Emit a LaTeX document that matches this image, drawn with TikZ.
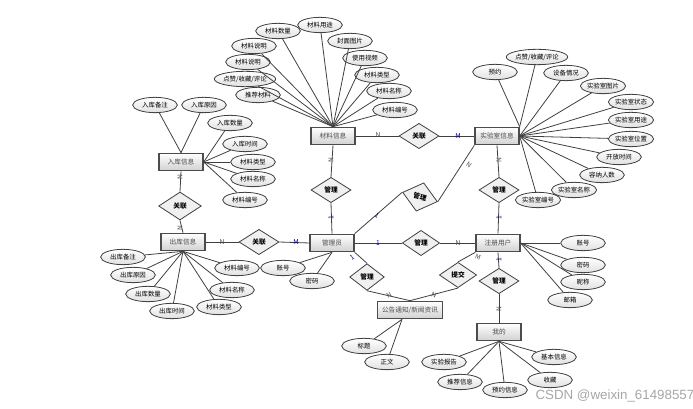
\documentclass[tikz,border=0pt]{standalone}
\usepackage{fontspec}
\setmainfont{Noto Sans CJK SC}
\newfontfamily\wmfont{Liberation Sans}
\usetikzlibrary{shapes.geometric}

\tikzset{every picture/.style={line width=0.75pt}}
\tikzset{
  entity/.style={draw=black!70, line width=1pt, top color=white, bottom color=black!18, minimum width=33pt, minimum height=13pt, inner sep=0pt, font=\fontsize{5}{6}\selectfont, text=black!70},
  attr/.style={ellipse, draw=black!75, line width=0.6pt, top color=white, bottom color=black!12, minimum width=33.5pt, minimum height=11.5pt, inner sep=0pt, font=\fontsize{4.8}{6}\selectfont},
  rel/.style={diamond, draw=black!75, line width=0.6pt, fill=black!6, aspect=1.6, minimum width=30pt, minimum height=19pt, inner sep=0pt, font=\bfseries\fontsize{5}{6}\selectfont},
  card/.style={font=\fontsize{5}{6}\selectfont, inner sep=0.5pt, text=blue!60!black},
  link/.style={draw=black!75, line width=0.6pt},
}

\begin{document}
\begin{tikzpicture}[x=0.75pt,y=0.75pt,yscale=-1,xscale=1]

\useasboundingbox (0,0) rectangle (693,409);

% entities
\node[entity] (mat) at (333,136) {材料信息};
\node[entity] (lab) at (497,136) {实验室信息};
\node[entity] (ru) at (181,162) {入库信息};
\node[entity] (chu) at (183,242) {出库信息};
\node[entity] (admin) at (332,243) {管理员};
\node[entity] (user) at (498,243) {注册用户};
\node[entity, minimum width=49pt] (notice) at (410,310) {公告通知/新闻资讯};
\node[entity] (mine) at (499,332) {我的};

% relations
\node[rel] (r1) at (419,136) {关联};
\node[rel, minimum width=32pt, minimum height=21pt] (r2) at (180,206) {关联};
\node[rel] (r3) at (259,242) {关联};
\node[rel] (r4) at (331,190) {管理};
\node[rel, rotate=-15, minimum width=27pt, minimum height=22pt] (r5) at (420,197) {管理};
\node[rel, minimum width=28pt] (r6) at (421,243) {管理};
\node[rel, minimum width=26pt, minimum height=20pt] (r7) at (367,277) {管理};
\node[rel, minimum width=28pt, minimum height=19pt] (r8) at (458,275) {提交};
\node[rel] (r9) at (499,281) {管理};
\node[rel] (r10) at (499,190) {管理};

% attributes of 材料信息
\node[attr] (m1) at (278,31) {材料数量};
\node[attr] (m2) at (320,25) {材料用途};
\node[attr] (m3) at (350,41) {封面图片};
\node[attr] (m4) at (365,58) {使用视频};
\node[attr] (m5) at (377,75) {材料类型};
\node[attr] (m6) at (389,91) {材料名称};
\node[attr] (m7) at (395,110) {材料编号};
\node[attr] (m8) at (254,46) {材料说明};
\node[attr] (m9) at (248,62) {材料说明};
\node[attr] (m10) at (245,79) {点赞/收藏/评论};
\node[attr] (m11) at (258,95) {推荐材料};

% attributes of 实验室信息
\node[attr] (l1) at (495,72) {预约};
\node[attr] (l2) at (537,57) {点赞/收藏/评论};
\node[attr] (l3) at (566,73) {设备情况};
\node[attr] (l4) at (603,86) {实验室图片};
\node[attr] (l5) at (631,102) {实验室状态};
\node[attr] (l6) at (631,120) {实验室用途};
\node[attr] (l7) at (631,139) {实验室位置};
\node[attr] (l8) at (619,157) {开放时间};
\node[attr] (l9) at (602,175) {容纳人数};
\node[attr] (l10) at (574,190) {实验室名称};
\node[attr] (l11) at (538,200) {实验室编号};

% attributes of 入库信息
\node[attr] (i1) at (155,105) {入库备注};
\node[attr] (i2) at (204,105) {入库原因};
\node[attr] (i3) at (230,123) {入库数量};
\node[attr] (i4) at (245,144) {入库时间};
\node[attr] (i5) at (253,162) {材料类型};
\node[attr] (i6) at (253,179) {材料名称};
\node[attr] (i7) at (245,200) {材料编号};

% attributes of 出库信息
\node[attr] (o1) at (123,257) {出库备注};
\node[attr] (o2) at (133,275) {出库原因};
\node[attr] (o3) at (148,294) {出库数量};
\node[attr] (o4) at (172,311) {出库时间};
\node[attr] (o5) at (219,307) {材料类型};
\node[attr] (o6) at (232,290) {材料名称};
\node[attr] (o7) at (237,268) {材料编号};

% attributes of 管理员, 注册用户, 公告, 我的
\node[attr] (a1) at (283,268) {账号};
\node[attr] (a2) at (312,281) {密码};
\node[attr] (u1) at (583,243) {账号};
\node[attr] (u2) at (583,265) {密码};
\node[attr] (u3) at (583,282) {昵称};
\node[attr] (u4) at (570,300) {邮箱};
\node[attr] (n1) at (364,346) {标题};
\node[attr] (n2) at (387,362) {正文};
\node[attr] (y1) at (554,357) {基本信息};
\node[attr] (y2) at (550,380) {收藏};
\node[attr] (y3) at (505,390) {预约信息};
\node[attr] (y4) at (460,382) {推荐信息};
\node[attr] (y5) at (444,362) {实验报告};

% attribute lines
\draw[link] (m1) -- (mat.north);
\draw[link] (m2) -- (mat.north);
\draw[link] (m3) -- (mat.north);
\draw[link] (m4) -- (mat.north);
\draw[link] (m5) -- (mat.north);
\draw[link] (m6) -- (mat.north);
\draw[link] (m7) -- (mat.north);
\draw[link] (m8) -- (mat.north);
\draw[link] (m9) -- (mat.north);
\draw[link] (m10) -- (mat.north);
\draw[link] (m11) -- (mat.north);
\draw[link] (l1) -- (lab.north east);
\draw[link] (l2) -- (lab.north east);
\draw[link] (l3) -- (lab.east);
\draw[link] (l4) -- (lab.east);
\draw[link] (l5) -- (lab.east);
\draw[link] (l6) -- (lab.east);
\draw[link] (l7) -- (lab.east);
\draw[link] (l8) -- (lab.east);
\draw[link] (l9) -- (lab.east);
\draw[link] (l10) -- (lab.east);
\draw[link] (l11) -- (lab.east);
\draw[link] (i1) -- (ru.north);
\draw[link] (i2) -- (ru.north);
\draw[link] (i3) -- (ru.east);
\draw[link] (i4) -- (ru.east);
\draw[link] (i5) -- (ru.east);
\draw[link] (i6) -- (ru.east);
\draw[link] (i7) -- (ru.east);
\draw[link] (o1) -- (chu.south);
\draw[link] (o2) -- (chu.south);
\draw[link] (o3) -- (chu.south);
\draw[link] (o4) -- (chu.south);
\draw[link] (o5) -- (chu.south);
\draw[link] (o6) -- (chu.south);
\draw[link] (o7) -- (chu.south);
\draw[link] (a1) -- (admin.south);
\draw[link] (a2) -- (admin.south);
\draw[link] (u1) -- (user.east);
\draw[link] (u2) -- (user.east);
\draw[link] (u3) -- (user.east);
\draw[link] (u4) -- (user.east);
\draw[link] (n1) -- ([xshift=-6pt]notice.south);
\draw[link] (n2) -- ([xshift=-6pt]notice.south);
\draw[link] (y1) -- (mine.south);
\draw[link] (y2) -- (mine.south);
\draw[link] (y3) -- (mine.south);
\draw[link] (y4) -- (mine.south);
\draw[link] (y5) -- (mine.south);

% relation lines
\draw[link] (mat.east) -- (r1.west);
\draw[link] (r1.east) -- (lab.west);
\draw[link] (ru.south) -- (r2.north);
\draw[link] (r2.south) -- (chu.north);
\draw[link] (chu.east) -- (r3.west);
\draw[link] (r3.east) -- (admin.west);
\draw[link] (mat.south) -- (r4.north);
\draw[link] (r4.south) -- (admin.north);
\draw[link] (admin.north east) -- (r5.west);
\draw[link] (r5.east) -- (lab.south west);
\draw[link] (admin.east) -- (r6.west);
\draw[link] (r6.east) -- (user.west);
\draw[link] (admin.south east) -- (r7.north);
\draw[link] (r7.south) -- (notice.north);
\draw[link] (notice.north) -- (r8.south);
\draw[link] (r8.north) -- (user.south west);
\draw[link] (user.south) -- (r9.north);
\draw[link] (r9.south) -- (mine.north);
\draw[link] (lab.south) -- (r10.north);
\draw[link] (r10.south) -- (user.north);

% cardinalities
\node[card, text=black!70] (k1) at (378,135) {N};
\node[card] (k2) at (458,136) {M};
\node[card, rotate=90, text=black!70] (k3) at (180,177) {N};
\node[card, rotate=90, text=black!70] (k4) at (180,228) {N};
\node[card, text=black!70] (k5) at (222,242) {N};
\node[card] (k6) at (296,242) {M};
\node[card, rotate=90, text=black!70] (k7) at (331,160) {N};
\node[card, rotate=90] (k8) at (331,218) {1};
\node[card, rotate=-35] (k9) at (377,216) {1};
\node[card, rotate=-35, text=black!70] (k10) at (469,165) {N};
\node[card] (k11) at (378,243) {1};
\node[card, text=black!70] (k12) at (458,243) {N};
\node[card, rotate=35] (k13) at (352,257) {1};
\node[card, rotate=30, text=black!70] (k14) at (389,295) {N};
\node[card, rotate=-20, text=black!70] (k15) at (434,295) {N};
\node[card, rotate=-20, text=black!70] (k16) at (478,257) {M};
\node[card, rotate=90] (k17) at (499,260) {1};
\node[card, rotate=90, text=black!70] (k18) at (499,309) {N};
\node[card, rotate=90, text=black!70] (k19) at (499,160) {N};
\node[card, rotate=90] (k20) at (499,218) {1};

% watermark
\node[anchor=west, inner sep=0pt, text=black!35, font=\wmfont\fontsize{10}{12}\selectfont] (wm) at (535,396) {CSDN @weixin\_61498557};

\end{tikzpicture}
\end{document}
